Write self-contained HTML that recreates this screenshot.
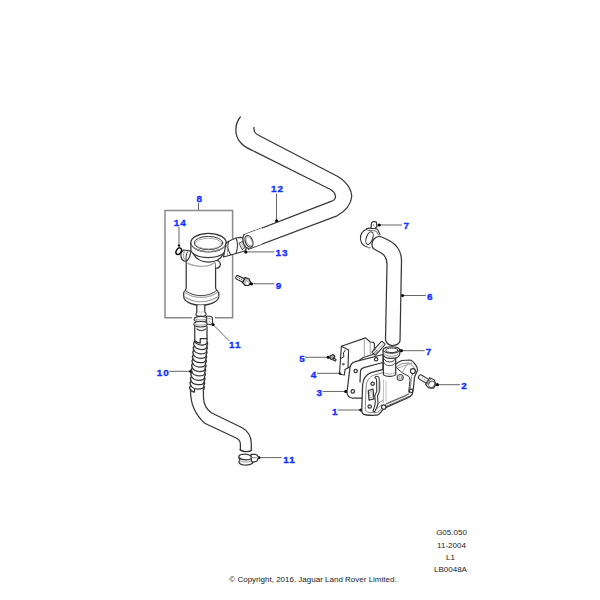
<!DOCTYPE html>
<html><head><meta charset="utf-8">
<style>
html,body{margin:0;padding:0;background:#fff;width:600px;height:600px;overflow:hidden}
svg{display:block}
.l{font-family:"Liberation Sans",sans-serif;font-weight:bold;font-size:9.9px;fill:#1432ff;stroke:#1432ff;stroke-width:0.35;letter-spacing:1px}
.t{font-family:"Liberation Sans",sans-serif;font-size:8px;fill:#222}
.ld{stroke:#666;stroke-width:1;fill:none}
.d{fill:#000}
.k{stroke:#363636;stroke-width:1.25;fill:none;stroke-linecap:round;stroke-linejoin:round}
.kw{stroke:#363636;stroke-width:1.25;fill:#fff;stroke-linecap:round;stroke-linejoin:round}
.g{stroke:#888;stroke-width:0.7;fill:none}
</style></head><body>
<svg width="600" height="600" viewBox="0 0 600 600">
<!-- labels -->
<g class="l" text-anchor="middle">
<text transform="translate(277.53 191.60)" x="0" y="0">12</text>
<text transform="translate(282.03 256.47)" x="0" y="0">13</text>
<text transform="translate(199.75 202.10)" x="0" y="0">8</text>
<text transform="translate(180.30 225.55)" x="0" y="0">14</text>
<text transform="translate(279.00 288.70)" x="0" y="0">9</text>
<text transform="translate(235.27 348.35)" x="0" y="0">11</text>
<text transform="translate(163.25 375.80)" x="0" y="0">10</text>
<text transform="translate(289.55 462.60)" x="0" y="0">11</text>
<text transform="translate(406.85 229.45)" x="0" y="0">7</text>
<text transform="translate(430.15 300.25)" x="0" y="0">6</text>
<text transform="translate(429.00 355.30)" x="0" y="0">7</text>
<text transform="translate(464.60 388.95)" x="0" y="0">2</text>
<text transform="translate(302.53 362.08)" x="0" y="0">5</text>
<text transform="translate(314.00 378.35)" x="0" y="0">4</text>
<text transform="translate(319.77 395.97)" x="0" y="0">3</text>
<text transform="translate(335.15 414.72)" x="0" y="0">1</text>
</g>
<!-- leaders -->
<path class="ld" d="M276.5 193.5V220.8 M198.5 203V210.5 M179 227V245.6 M245.75 251.9H274.3 M251.4 283.8H274.3 M213 324.5L229.2 340.8 M169.2 371.3H190.8 M258.8 457.6H281.6 M379.2 225H402 M402.5 295.5H425.8 M401.3 350.7H424.7 M305 357.25H328.25 M317 373.3H340.25 M322.7 391.45H345.8 M338 410H360.8 M437.3 384.7H460"/>
<g class="d">
<circle cx="276.6" cy="220.8" r="1.6"/>
<circle cx="245.75" cy="251.9" r="1.6"/>
<circle cx="251.4" cy="283.8" r="1.6"/>
<circle cx="213" cy="324.5" r="1.6"/>
<circle cx="190.8" cy="371.3" r="1.6"/>
<circle cx="258.8" cy="457.6" r="1.6"/>
<circle cx="379.2" cy="225" r="1.6"/>
<circle cx="402.5" cy="295.5" r="1.6"/>
<circle cx="401.3" cy="350.7" r="1.6"/>
<circle cx="328.25" cy="357.25" r="1.6"/>
<circle cx="340.25" cy="373.3" r="1.6"/>
<circle cx="345.8" cy="391.45" r="1.6"/>
<circle cx="360.8" cy="410" r="1.6"/>
<circle cx="437.3" cy="384.7" r="1.6"/>
</g>

<!-- box 8 -->
<path d="M191.9 317.8H165V210.5H232.6V317.8H214.8" style="fill:none;stroke:#8a8a8a;stroke-width:1.5"/>

<!-- hose 12 -->
<path class="k" d="M254 127.3C253.4 131 255 133.8 259 135.5L338.3 176.7C348 183 352 191 351.7 196.7C351 203.5 346.5 210.5 337 215.8L248.7 249.2"/>
<path class="k" d="M240.3 117C234.5 124 234 136 241 143C244 146.5 249 149 253.5 151L330 189.2C336.5 193 337.5 198.5 331.7 201.2L244 234.9"/>

<!-- breather 8 -->
<g class="k">
<!-- body cylinder -->
<path class="kw" d="M186.2 259V288C186 290 184.5 291.5 183.7 292.5V297C184 300.5 190 305.2 201 305.2C212 305.2 218.5 300.5 218.8 297V292.5C218 291.5 215.8 290 215.6 288V263"/>
<path d="M188 263.5C196 267.5 208 267.5 215 262.5" style="fill:none;stroke:#aaa;stroke-width:1.5"/>
<path d="M185.3 290.3C190 294.3 196 295.6 201 295.6C206 295.6 212 294.3 216.8 290.3" style="fill:none;stroke:#444;stroke-width:1"/>
<path d="M184.8 292.2C190 296.3 196 297.4 201 297.4C206 297.4 212 296.3 217.6 292.2" style="fill:none;stroke:#aaa;stroke-width:1.1"/>
<path d="M184 296.5C190 300.5 196 301.8 201 301.8C206 301.8 212 300.5 218.5 296.5" style="fill:none;stroke:#999;stroke-width:1.1"/>
<!-- spigot -->
<path class="kw" d="M196.8 305.3V312.5C196.8 314 198.5 315 201 315C203.5 315 204.8 314 204.8 312.5V305.3"/>
<path d="M197.2 311.5C199 312.8 203 312.8 204.4 311.5" style="fill:none;stroke:#999;stroke-width:0.8"/>
<!-- right bump -->
<path class="kw" d="M215.5 260.5C218 260 220.5 262 220.4 264.5C220.3 267 218 268.5 215.8 268"/>
<!-- left port -->
<path class="kw" d="M183.8 250C181.5 251.5 180.7 254 180.9 256C181.2 258.5 182.5 260.5 184.2 261.2L187 261L189.5 257L191.1 251.2Z"/>
<path d="M184.8 251.2C183 253.5 183 257.5 185 260.3" style="fill:none;stroke:#aaa;stroke-width:1.3"/>
<path class="k" d="M187.4 252.1C186 254 185.8 258 186.3 261" style="stroke-width:1"/>
<!-- neck ring -->
<path class="kw" d="M193.3 252V254C196 259 202 262 208.3 262C215 262 221 259 223.3 254V252Z" style="stroke:none"/>
<path class="k" d="M193.3 253.8C196 259 202 262 208.3 262C215 262 221 259 223.3 253.8"/>
<!-- cap -->
<path class="kw" d="M190.9 242.6V250.5C193 255 200 257.5 208.3 257.5C217 257.5 224 254.5 226.25 249.5V242.6"/>
<ellipse class="kw" cx="208.5" cy="242.6" rx="17.7" ry="9.2"/>
<path d="M191.5 245C194 249.5 201 251.5 208.5 251.5C216 251.5 223 249.5 225.8 245" style="fill:none;stroke:#999;stroke-width:1"/>
<ellipse class="k" cx="208.5" cy="243" rx="14.3" ry="6.6" style="stroke-width:1"/>
<ellipse cx="208.5" cy="243.6" rx="13" ry="5.3" style="fill:none;stroke:#999;stroke-width:0.8"/>
</g>
<!-- O-ring 14 -->
<ellipse cx="178.7" cy="251.2" rx="2.4" ry="3.5" transform="rotate(30 178.7 251.2)" style="fill:none;stroke:#111;stroke-width:1.5"/>
<circle class="d" cx="179" cy="245.6" r="1.2"/>
<!-- connector 13 -->
<g class="k">
<path class="kw" d="M226 243.5C228 241 232 239.5 236 238L240.7 237.3C243 237.5 244.5 239 245 241L246.3 246.5L246 249.5L244.7 251L236 253.5L230.7 255L223.5 257Z"/>
<path class="k" d="M228.7 241.3C227.3 245 227.5 250 230.7 254.7" style="stroke-width:1.1"/>
<path class="k" d="M236 238C237.8 242 237.8 248.5 236 253.3" style="stroke-width:1.1"/>
<path class="k" d="M231 240L236 238.3" style="stroke:#777;stroke-width:0.8"/>
<path class="k" d="M226.5 245C227.5 248 228 251 227.5 255" style="stroke:#888;stroke-width:0.8"/>
<path class="kw" d="M239.3 243L242.5 241.3L245 247.5L242.5 249.5Z" style="stroke-width:0.9"/>
<path d="M240.3 244.2L242.8 242.7 M240.9 245.6L243.4 244.1 M241.5 247L244 245.5 M242 248.4L244.5 246.9" style="stroke:#888;stroke-width:0.6;fill:none"/>
</g>
<!-- hose 12 end -->
<g class="k">
<path class="kw" d="M244 234.7L262 228V244L248.7 248.7C245 248 242.5 244 242.8 239.5C243 237 243.5 235.5 244 234.7Z" style="stroke:none"/>
<path class="k" d="M244 234.7C242.5 237 242.5 241.5 244 244.5C245 246.5 246.5 248 248.7 248.7"/>
<ellipse class="k" cx="249" cy="241.3" rx="3.6" ry="6" transform="rotate(-22 249 241.3)"/>
<ellipse cx="249.3" cy="241.3" rx="2.6" ry="4.8" transform="rotate(-22 249.3 241.3)" style="fill:none;stroke:#999;stroke-width:0.7"/>
</g>
<!-- bolt 9 -->
<g transform="translate(246.8 282) rotate(26)">
<rect x="-12" y="-1.9" width="9.5" height="3.8" rx="1.5" style="fill:#fff;stroke:#111;stroke-width:1"/>
<path d="M-10.5 0H-4" style="stroke:#444;stroke-width:1.2;stroke-dasharray:1 1;fill:none"/>
<path d="M-3.5 -3.4L0.5 -3.8L3.5 -1.5L3.5 2L0 3.8L-3.5 2.5Z" style="fill:#bbb;stroke:#111;stroke-width:1"/>
<path d="M0.5 -1L2.5 0L1.5 3L-0.5 2Z" style="fill:#fff;stroke:none"/>
</g>
<!-- hose 10 -->
<g class="k">
<path class="kw" d="M194.75 326.5V341H207V326.5Z" style="stroke:none"/>
<path class="k" d="M194.75 326.5V341C193.55 342.50 193.45 344.50 194.35 345.90C193.16 346.90 193.05 348.90 193.96 350.30C192.76 351.30 192.66 353.30 193.56 354.70C192.37 355.70 192.26 357.70 193.17 359.10C191.97 360.10 191.87 362.10 192.78 363.50C191.58 364.50 191.47 366.50 192.38 367.90C191.18 368.90 191.08 370.90 191.99 372.30C190.79 373.30 190.69 375.30 191.59 376.70C190.39 377.70 190.29 379.70 191.20 381.10C190.00 382.10 189.90 384.10 190.80 385.50C189.60 386.50 189.50 388.50 190.45 389.90"/>
<path class="k" d="M207 326.5V341L207.00 341.50C207.90 343.00 207.90 344.50 206.67 345.90C207.57 347.40 207.57 348.90 206.34 350.30C207.24 351.80 207.24 353.30 206.01 354.70C206.91 356.20 206.91 357.70 205.68 359.10C206.58 360.60 206.58 362.10 205.35 363.50C206.25 365.00 206.25 366.50 205.02 367.90C205.92 369.40 205.92 370.90 204.69 372.30C205.59 373.80 205.59 375.30 204.36 376.70C205.26 378.20 205.26 379.70 204.03 381.10C204.93 382.60 204.93 384.10 203.70 385.50C204.60 387.00 204.60 388.50 203.37 389.90"/>
<path class="k" d="M194.75 341.50C196.25 344.00 198.75 345.00 201.38 345.10C204.00 345.10 206.70 344.50 207.00 342.70M194.35 345.90C195.85 348.40 198.35 349.40 201.01 349.50C203.67 349.50 206.37 348.90 206.67 347.10M193.96 350.30C195.46 352.80 197.96 353.80 200.65 353.90C203.34 353.90 206.04 353.30 206.34 351.50M193.56 354.70C195.06 357.20 197.56 358.20 200.29 358.30C203.01 358.30 205.71 357.70 206.01 355.90M193.17 359.10C194.67 361.60 197.17 362.60 199.93 362.70C202.68 362.70 205.38 362.10 205.68 360.30M192.78 363.50C194.28 366.00 196.78 367.00 199.56 367.10C202.35 367.10 205.05 366.50 205.35 364.70M192.38 367.90C193.88 370.40 196.38 371.40 199.20 371.50C202.02 371.50 204.72 370.90 205.02 369.10M191.99 372.30C193.49 374.80 195.99 375.80 198.84 375.90C201.69 375.90 204.39 375.30 204.69 373.50M191.59 376.70C193.09 379.20 195.59 380.20 198.47 380.30C201.36 380.30 204.06 379.70 204.36 377.90M191.20 381.10C192.70 383.60 195.20 384.60 198.11 384.70C201.03 384.70 203.73 384.10 204.03 382.30M190.80 385.50C192.30 388.00 194.80 389.00 197.75 389.10C200.70 389.10 203.40 388.50 203.70 386.70"/>
<path class="k" d="M195 341C196.5 342.5 198.5 343 200.25 343V338.5H207"/>
<path class="k" d="M197 329C199 331 203.5 331 205.5 329" style="stroke:#555"/>
<path class="k" d="M190.5 390C190.5 397 191.5 403 193.8 408.2C196 413 200 419 204.7 423.3L237.2 438.5C239.5 440 240.4 442 240.4 444.5V449.5M251.3 449.5V444C251.3 437 248 431 242.2 427.8L211.25 412.7C206 409 203.8 404 203.5 398L203.4 389.5"/>
<path class="k" d="M190.6 389.5C191.5 391.5 193.5 392 194.5 392V389"/>
</g>
<!-- clamp 11 upper -->
<g class="k">
<path class="kw" d="M196.6 312.5C196 313.5 195.8 315 196.5 315.5C198 316.3 199.5 316.4 201 316.4C202.5 316.4 204 316.3 205.5 315.5C206.2 315 206 313.5 205.4 312.5" style="stroke-width:1.1"/>
<path class="kw" d="M194.4 318C194 319 194.2 320.3 194.8 320.8C196.5 321.7 198.5 321.9 200.5 321.9C203 321.9 205 321.7 206.8 320.8L207.2 317.8C205.5 316.7 203 316.3 200.5 316.3C198 316.3 195.8 316.8 194.4 318Z" style="stroke-width:1.15"/>
<path d="M194.8 318.8C196.5 319.8 198.5 320 200.5 320C203 320 205 319.8 206.8 318.8" style="fill:none;stroke:#888;stroke-width:0.9"/>
<path class="kw" d="M194.2 323C193.8 324 194 325.3 194.6 325.8C196.3 326.7 198.5 327 200.5 327C203 327 205 326.7 206.8 325.8L207.2 322.7C205.5 321.8 203 321.5 200.5 321.5C198 321.5 195.6 321.8 194.2 323Z" style="stroke-width:1.15"/>
<path d="M194.6 323.8C196.3 324.8 198.5 325.1 200.5 325.1C203 325.1 205 324.8 206.8 323.8" style="fill:none;stroke:#999;stroke-width:0.9"/>
<path class="kw" d="M206.5 316.2L210.5 316.2C211.8 316.5 212.6 317.5 212.5 319L212.6 323.5L210.5 324.7L206.8 323.8Z" style="stroke-width:1.1"/>
<path d="M207 318.5L211.5 319 M209 321L211.5 323" style="fill:none;stroke:#888;stroke-width:0.8"/>
</g>
<!-- clamp 11 lower -->
<g class="k">
<path class="kw" d="M239.2 455.5C238.5 457.5 239 459 240 459.5C239 461 238.8 462.5 239.5 463C241 465 244 465 246 465C249 465 251 464.3 252.5 463.5L251.5 456.5C250 455 248 454 245.5 454C242 454 240 454.5 239.2 455.5Z"/>
<path class="k" d="M239.5 458C241 459.5 244 459.8 246 459.8C249 459.8 251 459 252 458.5"/>
<path d="M240 461C242 462.5 248 462.5 251.5 461" style="fill:none;stroke:#888;stroke-width:0.8"/>
<path class="kw" d="M251 454.3L255.5 454.3C257 454.5 258 456 258.5 457.5L257 461L254 462.2L251.5 461.5Z"/>
<path d="M252 457.5L256.5 457.8" style="fill:none;stroke:#888;stroke-width:1"/>
<path class="k" d="M240 449.5C242 452 249.5 452.5 251.75 450"/>
</g>
<!-- hose 6 -->
<g class="k">
<path class="kw" d="M378.5 236.5C375.5 236.8 372.3 240 372 243.5C371.8 246 372.5 248 374 249L382 253.5C385 255.5 387 259 387 265L385.5 340C387 344 390 345.5 392.5 345.5C396 345.5 399 344 400 341L401.5 261C401.5 252 397 245 390 241L384 238C382 237 380 236.3 378.5 236.5Z"/>
</g>
<!-- clamp 7 upper -->
<g class="k">
<path class="k" d="M367 229C362 231 360 235 360.5 239.5C361 243.5 364 246.5 368.5 247.5" style="stroke-width:1.1"/>
<ellipse class="k" cx="369.5" cy="238.1" rx="3.1" ry="6.6" transform="rotate(20 369.5 238.1)" style="stroke-width:1.1"/>
<path class="k" d="M366.5 228.8C368 227.8 374 227.8 377.5 229.2L380 234.4" style="stroke-width:1.1"/>
<path class="k" d="M368 230.5C371 230 374.5 230.5 376.5 231.5L378.5 235" style="stroke:#555;stroke-width:0.9"/>
<path class="kw" d="M371 228.3L371.5 223C372.5 221.5 375 221.3 376.3 222L377 226.5L375 228.5Z"/>
<path d="M373.5 224.5L374 226" style="stroke:#666;stroke-width:0.8"/>
<path d="M367.5 247.5C368.5 248 369.5 248 370 247.5" style="stroke:#999;stroke-width:1.2;fill:none"/>
</g>
<!-- bracket 4 -->
<g class="k">
<path class="kw" d="M341.4 346.2L365.6 337.9L370.2 342L373.6 342.4L374.5 344L374.2 354L362.7 357.8L352 366L348 367.8L345 369.6L344.4 375L341.5 374.5L339.6 372Z" style="stroke-width:1.15"/>
<path class="k" d="M341.4 346.2L348.6 350.1L348 367.8" style="stroke-width:1.15"/>
<path class="k" d="M345.2 350.3L343.5 352.8L343.8 357L341.1 358.2" style="stroke-width:1"/>
<path class="k" d="M364.3 340V357.5 M370.2 343V355" style="stroke:#777;stroke-width:0.7"/>
<circle class="k" cx="343.2" cy="364.2" r="0.9" style="stroke-width:0.8"/>
</g>
<!-- gasket 3 -->
<g class="k">
<path class="kw" d="M355.2 361.7L383 354.5V398H352C349 397.8 347 395 347 392L350 367.5C350.5 364.5 352.5 362.5 355.2 361.7Z"/>
<path class="k" d="M360 382L360.5 371C360.8 369 362.5 367.8 364.5 367.3L383 362.5"/>
<circle class="k" cx="355.7" cy="371" r="1.7"/>
<circle class="k" cx="352.8" cy="391.4" r="1.7"/>
<circle class="k" cx="376.1" cy="359.3" r="1.7"/>
</g>
<!-- body 1 -->
<g class="k">
<path class="kw" d="M383.2 369.4L371 372.6C366 374.6 363 379 362.6 385L361.8 409.4C361.6 412 362 413.5 363.3 414.1C365 415 368 415.3 372.6 415.3L376.7 415.1C379 415 381 412 382 410.6L386.7 407.1L405.3 399C408.5 397.5 411 396 412.3 394.3L413.5 387.3L414.6 376.8L417.5 370.4C417.5 368 416.8 366.5 415.8 365.2C414 362.5 412.5 360.5 410 360L401.8 360.5C399.5 361.5 397.5 362.5 396 364Z"/>
<path class="k" d="M383 372.6L373.5 375.2C369 377.2 366.5 381 366.2 386L365.3 406C365 409 365.5 410.5 366.5 411.5C368 412.5 370 412.7 373 412.7L376.5 412.5C378.5 412.3 380 410.5 381 409L385.5 404.5L404.5 396.5C407 395.3 408.8 394 409.5 392.5L410.5 386L411.5 376.5L414.3 371C414.5 369 414 367.5 413 366.5C411.5 364.5 410 363.3 408.5 363L402.5 363.5C400.5 364.3 398.5 365.3 397 366.5" style="stroke:#555;stroke-width:0.7"/>
<path class="kw" d="M375.7 376.5C378 375.8 379.5 377 379.3 380L379.3 391.5C379 393.5 378 394.5 377.5 396L378 402C378.3 404 377.5 406 376.5 408L374.5 412L373 411C374.3 408 375.3 405 375.3 402L374.8 396C375.3 393.5 376.8 392.5 376.8 391L376.6 381C376.6 379 376 378 375 377.8Z" style="stroke-width:1.1"/>
<path class="k" d="M377.5 404L383 400 M376 409.5L381.5 405" style="stroke:#777;stroke-width:0.8"/>
<path class="k" d="M378.6 376.5C380.5 380 380 385 380 390" style="stroke:#888;stroke-width:0.7"/>
<path class="k" d="M396.5 367.5C399 370 401.5 372.5 404 373.8L409 376.5C410 378 410 380 409.8 382L409.3 386.5L408.8 392" style="stroke:#333;stroke-width:1"/>
<path class="k" d="M398 368L412 363 M402.5 372L406.5 365.5" style="stroke:#777;stroke-width:0.7"/>
<path class="k" d="M386 406.5L408.8 396.5 M386.5 403.5L408.5 394" style="stroke:#444;stroke-width:0.8"/>
<path class="k" d="M383.5 380V403 M386 381V401" style="stroke:#999;stroke-width:0.6"/>
<path class="k" d="M368.3 390.5L373 389.2L374 398.8L369 400.2Z"/>
<path class="k" d="M370 392L372 391.5L372.6 397L370.5 397.8Z" style="stroke:#888;stroke-width:0.6"/>
<circle class="k" cx="372.6" cy="383.8" r="1.7"/>
<circle class="k" cx="369.7" cy="406.5" r="1.7"/>
<circle class="kw" cx="383.7" cy="407.1" r="2.2"/>
<circle cx="400.2" cy="377.5" r="3" style="fill:#fff;stroke:#555;stroke-width:1.2"/>
<circle cx="400.4" cy="377.3" r="1.5" style="fill:none;stroke:#888;stroke-width:0.9"/>
<circle class="kw" cx="412.9" cy="371" r="2.5"/>
<circle class="k" cx="411.1" cy="390.8" r="1.8"/>
</g>
<!-- spigot + clamp 7 lower -->
<g class="k">
<path class="kw" d="M383.4 356V374.5C385 377 394 377 395.7 374.5V356Z"/>
<path d="M383.8 358.8C385 361 387 361.9 389.5 361.9C392 361.9 394.5 361 395.6 358.8" style="fill:none;stroke:#333;stroke-width:1"/>
<path d="M383.8 362.5C385 364.8 387 365.6 389.5 365.6C392 365.6 394.5 364.8 395.6 362.5" style="fill:none;stroke:#555;stroke-width:1"/>
<path d="M384 372.5C386 374.5 393 374.5 395 372.5" style="fill:none;stroke:#999;stroke-width:0.8"/>
<g transform="translate(378.5 348.2) rotate(-48)">
<rect x="-7.5" y="-2.4" width="15" height="4.8" rx="0.8" style="fill:#fff;stroke:#363636;stroke-width:1.1"/>
<path d="M-6 -1.3V1.3 M-4.5 -1.3V1.3 M-3 -1.3V1.3" style="stroke:#555;stroke-width:0.7"/>
<path d="M-7 0.5H6.5" style="stroke:#888;stroke-width:0.6"/>
</g>
<path class="kw" d="M383.1 349.8V354C383.5 357 387.5 358.4 391.5 358.4C395.5 358.4 399.4 357 399.8 354V349.8Z"/>
<ellipse class="kw" cx="391.5" cy="349.9" rx="8.3" ry="3.2" style="stroke-width:1.1"/>
<ellipse class="k" cx="391.9" cy="350.3" rx="6.2" ry="2.3" style="stroke-width:1"/>
<path class="k" d="M383.5 353C385.5 355.8 389 356.2 391.5 356.2C394 356.2 398 355.6 399.6 353" style="stroke:#777;stroke-width:0.8"/>
</g>
<!-- screw 5 -->
<g class="k">
<path class="k" d="M330 356L333 354.5C334.5 355 335 357 334.5 358L331.5 359.5C330 359 329.5 357.5 330 356Z" style="fill:#aaa"/>
<path class="kw" d="M333.5 358L336 359.5L335.5 361L333 360Z"/>
</g>
<!-- bolt 2 -->
<g transform="translate(430.8 383.5) rotate(32)">
<rect x="-14" y="-2.3" width="11" height="4.6" rx="2" style="fill:#fff;stroke:#333;stroke-width:1.1"/>
<path d="M-10.5 -0.3H-4.5" style="stroke:#aaa;stroke-width:0.9;stroke-dasharray:1.5 1;fill:none"/>
<path d="M-4 -4.4L1 -5L4.8 -2L4.8 2.5L0.5 5L-4 3.5Z" style="fill:#fff;stroke:#333;stroke-width:1.1"/>
<path d="M-2.5 -4.2L-2.8 3.8" style="stroke:#555;stroke-width:0.8;fill:none"/>
<ellipse cx="1.2" cy="0.2" rx="2.8" ry="3.4" style="fill:none;stroke:#444;stroke-width:0.9"/>
</g>
<!-- copyright / refs -->
<text class="t" x="451.5" y="535.3" text-anchor="middle">G05.050</text>
<text class="t" x="451.5" y="547.5" text-anchor="middle">11-2004</text>
<text class="t" x="450.5" y="560" text-anchor="middle">L1</text>
<text class="t" x="450.5" y="572" text-anchor="middle">LB0048A</text>
<text class="t" x="313" y="581.5" text-anchor="middle">© Copyright, 2016. Jaguar Land Rover Limited.</text>
</svg>
</body></html>
